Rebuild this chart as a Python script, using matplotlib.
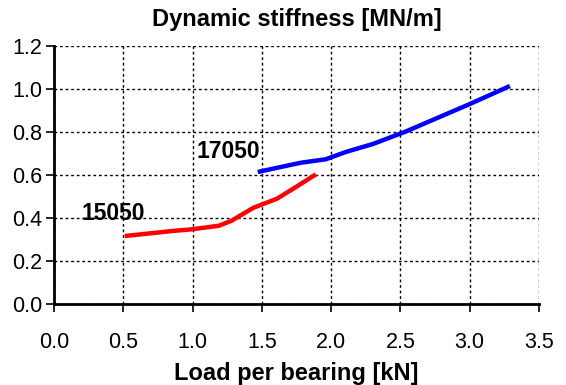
import numpy as np
import matplotlib.pyplot as plt

plt.rcParams['font.family'] = ['Liberation Sans', 'DejaVu Sans']

# 15050 bearing
load_15050 = [0.51, 0.86, 0.99, 1.19, 1.28, 1.44, 1.61, 1.75, 1.89]
stiff_15050 = [0.316, 0.340, 0.347, 0.364, 0.387, 0.448, 0.490, 0.546, 0.603]

# 17050 bearing
load_17050 = [1.47, 1.78, 1.96, 2.11, 2.30, 2.53, 3.00, 3.29]
stiff_17050 = [0.614, 0.657, 0.673, 0.708, 0.744, 0.800, 0.930, 1.014]

xticks = [0.0, 0.5, 1.0, 1.5, 2.0, 2.5, 3.0, 3.5]
yticks = [0.0, 0.2, 0.4, 0.6, 0.8, 1.0, 1.2]

fig = plt.figure(figsize=(5.66, 3.85), dpi=100)
ax = fig.add_axes([0.0954, 0.2104, 0.8569, 0.6701])

ax.plot(load_15050, stiff_15050, color='#ff0000', lw=3.2, solid_capstyle='butt')
ax.plot(load_17050, stiff_17050, color='#0000ff', lw=3.2, solid_capstyle='butt')

ax.text(0.425, 0.422, '15050', fontsize=16.5, fontweight='bold', ha='center', va='center')
ax.text(1.26, 0.707, '17050', fontsize=16.5, fontweight='bold', ha='center', va='center')

ax.set_xlim(0, 3.5)
ax.set_ylim(0, 1.2)
ax.set_xticks(xticks)
ax.set_yticks(yticks)
ax.set_xticklabels([f'{v:.1f}' for v in xticks])
ax.set_yticklabels([f'{v:.1f}' for v in yticks])
ax.grid(True, color='black', linestyle=(0, (2, 2)), lw=1.0)
ax.set_axisbelow(True)

for s in ['top', 'right']:
    ax.spines[s].set_visible(False)
for s in ['left', 'bottom']:
    ax.spines[s].set_linewidth(2)

ax.tick_params(axis='x', direction='out', length=6, width=1.2, pad=14.5, labelsize=15.5)
ax.tick_params(axis='y', direction='out', length=6, width=1.2, pad=2.5, labelsize=15.5)

ax.set_title('Dynamic stiffness [MN/m]', fontsize=17, fontweight='bold', pad=14.5)
ax.set_xlabel('Load per bearing [kN]', fontsize=17, fontweight='bold', labelpad=6)

fig.savefig('out.png', dpi=100)
